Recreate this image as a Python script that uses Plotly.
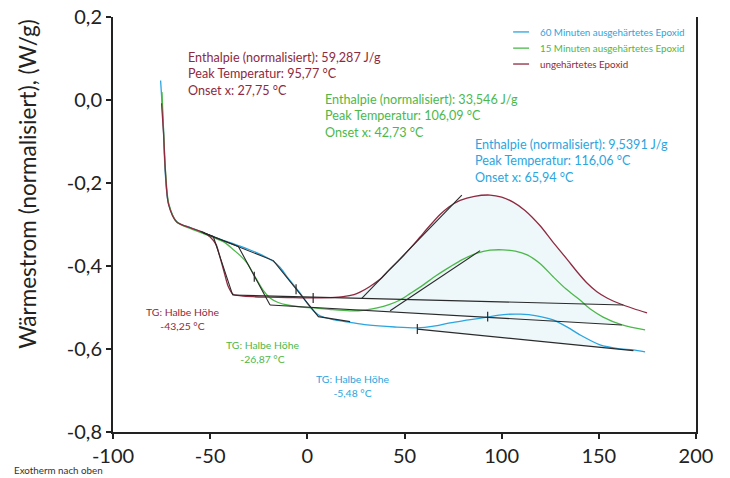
import numpy as np
import plotly.graph_objects as go

FONT = "Lato"
C_BLUE = "#2aa5e0"
C_GREEN = "#4cb84a"
C_MAROON = "#8e2a40"
C_BLACK = "#2a2a2a"
C_FILL = "#eef7fa"

# ---- curves (temperature °C, heat flow W/g) ----
blue_T = [-75.5, -74.1, -73.2, -71.5, -67.2, -60, -53.5, -45, -34.6, -25, -17.7, -14.1, -10.4, -3.8, 1.4,
          6.5, 14, 22, 30.7, 45, 56.5, 65, 73.4, 83, 92.5, 101, 109.5, 118, 126.5, 134, 140.3, 150.6,
          160, 167.6, 173.8]
blue_y = [0.047, -0.064, -0.169, -0.249, -0.293, -0.308, -0.320, -0.335, -0.352, -0.370, -0.388, -0.403,
          -0.426, -0.465, -0.499, -0.520, -0.530, -0.536, -0.542, -0.547, -0.549, -0.545, -0.537, -0.530,
          -0.523, -0.517, -0.516, -0.520, -0.530, -0.548, -0.566, -0.590, -0.599, -0.602, -0.607]

green_T = [-74.8, -74.0, -73.0, -71.3, -67.2, -60, -53.5, -48.5, -43, -38.2, -34.5, -31, -26.9, -22.8,
           -19.2, -15, -10.4, -3, 3, 12, 22, 30, 35.9, 42, 47.7, 53, 59.5, 66, 73.4, 80, 87.3, 94,
           100.7, 107, 113.1, 120, 126.5, 133, 140.3, 146, 152.2, 162, 173.8]
green_y = [0.019, -0.070, -0.170, -0.250, -0.294, -0.310, -0.322, -0.331, -0.342, -0.360, -0.375, -0.393,
           -0.426, -0.458, -0.477, -0.488, -0.494, -0.499, -0.501, -0.505, -0.508, -0.506, -0.501, -0.493,
           -0.482, -0.466, -0.446, -0.424, -0.402, -0.384, -0.369, -0.362, -0.361, -0.364, -0.373, -0.395,
           -0.426, -0.455, -0.482, -0.505, -0.523, -0.542, -0.554]

maroon_T = [-75, -74, -73, -71.4, -67.2, -60, -53.5, -50, -47, -45, -42.5, -40.8, -38.2, -34, -28, -20.7,
            -10, 3, 12, 18.4, 24, 27.1, 32, 37.4, 42, 47.7, 53, 58, 63, 68.3, 73, 78.6, 86, 94, 100,
            105.9, 112, 119.8, 126, 133.7, 139, 143.9, 149, 154.2, 162.5, 168, 174.8]
maroon_y = [-0.008, -0.080, -0.175, -0.252, -0.294, -0.308, -0.319, -0.330, -0.348, -0.378, -0.420, -0.448,
            -0.468, -0.472, -0.474, -0.475, -0.476, -0.477, -0.476, -0.474, -0.469, -0.463, -0.450, -0.432,
            -0.410, -0.384, -0.357, -0.330, -0.303, -0.276, -0.257, -0.242, -0.232, -0.229, -0.234, -0.246,
            -0.266, -0.303, -0.340, -0.384, -0.415, -0.441, -0.462, -0.477, -0.494, -0.503, -0.513]

# ---- evaluation construction lines ----
blue_step_T = [-53.5, -17.5, 5.7, 22]
blue_step_y = [-0.320, -0.387, -0.522, -0.534]
green_step_T = [-53.5, -35.5, -19.2]
green_step_y = [-0.320, -0.353, -0.494]
maroon_step_T = [-55, -48.4, -38.4]
maroon_step_y = [-0.317, -0.329, -0.470]

maroon_base_T = [-38.4, 162.6]
maroon_base_y = [-0.470, -0.494]
green_base_T = [-19.2, 161.8]
green_base_y = [-0.494, -0.542]
blue_base_T = [56.6, 167.8]
blue_base_y = [-0.552, -0.604]

maroon_onset_T = [28.0, 79.5]
maroon_onset_y = [-0.478, -0.229]
green_onset_T = [42.6, 88.9]
green_onset_y = [-0.508, -0.363]

# integration ranges (°C)
maroon_range = [3, 162.5]
green_range = [22, 162]
blue_range = [56.5, 167.6]

# marker ticks
mark_T = [-5.8, -27.3, 3, 56.6, 92.8]
mark_y = [-0.456, -0.426, -0.477, -0.552, -0.522]

# axes
x_ticks = [-100, -50, 0, 50, 100, 150, 200]
x_labels = ["-100", "-50", "0", "50", "100", "150", "200"]
y_ticks = [0.2, 0.0, -0.2, -0.4, -0.6, -0.8]
y_labels = ["0,2", "0,0", "-0,2", "-0,4", "-0,6", "-0,8"]

legend_names = ["60 Minuten ausgehärtetes Epoxid", "15 Minuten ausgehärtetes Epoxid", "ungehärtetes Epoxid"]
legend_colors = [C_BLUE, C_GREEN, C_MAROON]

fig = go.Figure()

# fills
def add_fill(T, y, bT, by, rng):
    T = np.array(T); y = np.array(y)
    m = (T >= rng[0]) & (T <= rng[1])
    ct, cy = T[m], y[m]
    bt = np.array([ct[0], ct[-1]])
    byv = np.interp(bt, bT, by)
    fig.add_trace(go.Scatter(x=bt, y=byv, mode="lines", line=dict(width=0), hoverinfo="skip", showlegend=False))
    fig.add_trace(go.Scatter(x=ct, y=cy, mode="lines", line=dict(width=0, shape="spline", smoothing=0.8),
                             fill="tonexty", fillcolor=C_FILL, hoverinfo="skip", showlegend=False))

add_fill(maroon_T, maroon_y, maroon_base_T, maroon_base_y, maroon_range)
add_fill(green_T, green_y, green_base_T, green_base_y, green_range)
add_fill(blue_T, blue_y, blue_base_T, blue_base_y, blue_range)

for T, y, c in [(blue_T, blue_y, C_BLUE), (green_T, green_y, C_GREEN), (maroon_T, maroon_y, C_MAROON)]:
    fig.add_trace(go.Scatter(x=T, y=y, mode="lines", line=dict(color=c, width=1.3, shape="spline", smoothing=0.8),
                             showlegend=False))

for T, y in [(blue_step_T, blue_step_y), (green_step_T, green_step_y), (maroon_step_T, maroon_step_y),
             (maroon_base_T, maroon_base_y), (green_base_T, green_base_y), (blue_base_T, blue_base_y),
             (maroon_onset_T, maroon_onset_y), (green_onset_T, green_onset_y)]:
    fig.add_trace(go.Scatter(x=T, y=y, mode="lines", line=dict(color=C_BLACK, width=1.1), showlegend=False))

tx, ty = [], []
for t, v in zip(mark_T, mark_y):
    tx += [t, t, None]
    ty += [v - 0.012, v + 0.012, None]
fig.add_trace(go.Scatter(x=tx, y=ty, mode="lines", line=dict(color=C_BLACK, width=1.2), showlegend=False))

# texts
ann = []
def txt(x, y, s, color, size=12.5, xanchor="left", xref="x", yref="y", **kw):
    ann.append(dict(x=x, y=y, text=s, xref=xref, yref=yref, showarrow=False, xanchor=xanchor,
                    yanchor="middle", align=xanchor if xanchor != "center" else "center",
                    font=dict(family=FONT, size=size, color=color), **kw))

# (x of left edge, y of middle line)
blocks = [
    (-62.4, 0.0627, C_MAROON,
     ["Enthalpie (normalisiert): 59,287 J/g", "Peak Temperatur: 95,77 °C", "Onset x: 27,75 °C"]),
    (7.9, -0.0386, C_GREEN,
     ["Enthalpie (normalisiert): 33,546 J/g", "Peak Temperatur: 106,09 °C", "Onset x: 42,73 °C"]),
    (85.4, -0.146, C_BLUE,
     ["Enthalpie (normalisiert): 9,5391 J/g", "Peak Temperatur: 116,06 °C", "Onset x: 65,94 °C"]),
]
for x, ym, c, lines in blocks:
    txt(x, ym, "<br>".join(lines), c, size=12.6)

tg = [(-64.0, -0.5277, C_MAROON, ["TG: Halbe Höhe", "-43,25 °C"]),
      (-23.3, -0.6072, C_GREEN, ["TG: Halbe Höhe", "-26,87 °C"]),
      (23.0, -0.6891, C_BLUE, ["TG: Halbe Höhe", "-5,48 °C"])]
for x, ym, c, lines in tg:
    txt(x, ym, "<br>".join(lines), c, size=10.4, xanchor="center")

# custom legend
leg_y = [0.164, 0.125, 0.0867]
shapes = []
for yy, name, c in zip(leg_y, legend_names, legend_colors):
    shapes.append(dict(type="line", xref="x", yref="y", x0=105.9, x1=114.1, y0=yy, y1=yy,
                       line=dict(color=c, width=1.3)))
    txt(118.7, yy, name, c, size=9.8)

# y title and footnote
txt(-0.146, 0.598, "Wärmestrom (normalisiert), (W/g)", "#222", size=22.5, xanchor="center",
    xref="paper", yref="paper", textangle=-90)
txt(-0.173, -0.092, "Exotherm nach oben", "#333", size=9.8, xref="paper", yref="paper")

fig.update_layout(
    width=730, height=478, margin=dict(l=113, r=34, t=17, b=46, autoexpand=False),
    paper_bgcolor="white", plot_bgcolor="white", showlegend=False,
    font=dict(family=FONT, color="#222"),
    annotations=ann, shapes=shapes,
)
fig.update_xaxes(range=[-100, 200], tickvals=x_ticks, ticktext=x_labels, showgrid=False, zeroline=False,
                 showline=True, linecolor="#222", linewidth=2, ticks="outside", ticklen=5, tickwidth=1.5,
                 tickcolor="#222", tickfont=dict(size=20, family=FONT, color="#222"))
fig.update_yaxes(range=[-0.8, 0.2], tickvals=y_ticks, ticktext=y_labels, showgrid=False, zeroline=False,
                 showline=True, mirror=True, linecolor="#222", linewidth=2, ticks="outside", ticklen=5,
                 tickwidth=1.5, tickcolor="#222", tickfont=dict(size=20, family=FONT, color="#222"))

fig.write_html("out.html")
